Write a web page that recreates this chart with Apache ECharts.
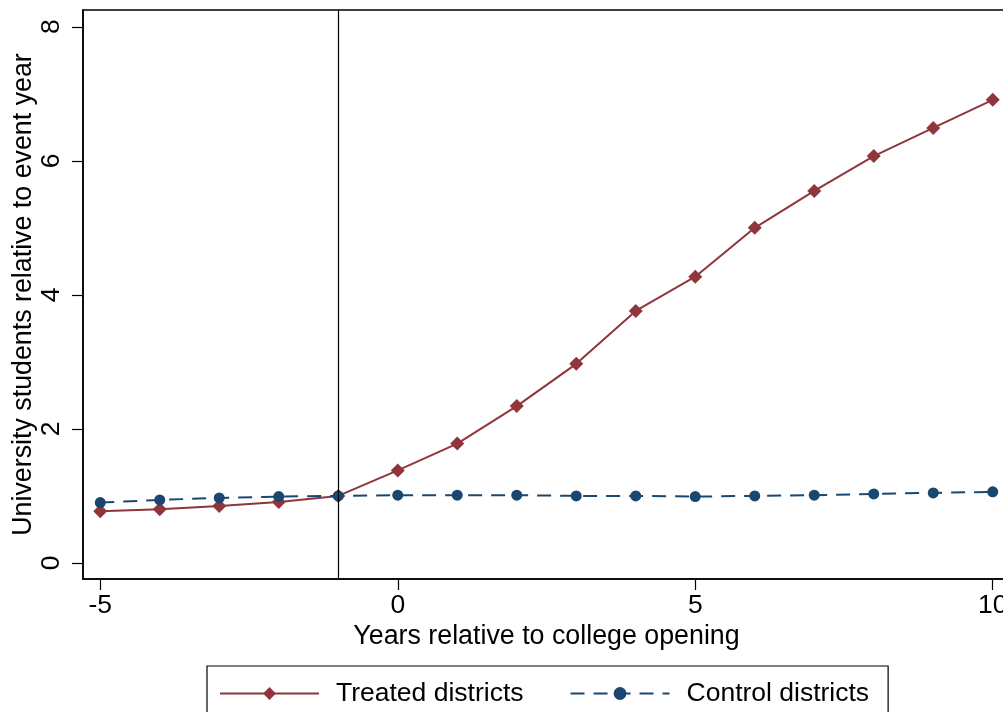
<!DOCTYPE html>
<html>
<head>
<meta charset="utf-8">
<script src="https://cdn.jsdelivr.net/npm/echarts@6/dist/echarts.min.js"></script>
<style>
  html, body { margin: 0; padding: 0; background: #fff; }
  #chart { width: 1003px; height: 712px; }
</style>
</head>
<body>
<div id="chart"></div>
<script>
// Event-study: university students relative to the event year
const years = [-5, -4, -3, -2, -1, 0, 1, 2, 3, 4, 5, 6, 7, 8, 9, 10];
const treated = [0.77, 0.80, 0.85, 0.91, 1.00, 1.38, 1.78, 2.34, 2.97, 3.76, 4.27, 5.00, 5.55, 6.07, 6.49, 6.91];
const control = [0.90, 0.94, 0.97, 0.99, 1.00, 1.01, 1.01, 1.01, 1.00, 1.00, 0.99, 1.00, 1.01, 1.03, 1.045, 1.06];
const xTicks = [-5, 0, 5, 10];
const yTicks = [0, 2, 4, 6, 8];
const eventLine = -1;

const FONT = '"Liberation Sans", Arial, Helvetica, sans-serif';
const RED = '#90353B';
const NAVY = '#1A476F';

const chart = echarts.init(document.getElementById('chart'), null, { renderer: 'canvas' });

chart.setOption({
  animation: false,
  backgroundColor: '#ffffff',
  textStyle: { fontFamily: FONT, color: '#000' },
  grid: {
    left: 83, top: 10, width: 927, height: 569,
    containLabel: false, outerBoundsMode: 'none',
    show: true, borderColor: '#000', borderWidth: 1.5, backgroundColor: 'transparent'
  },
  xAxis: {
    type: 'value', min: -5.29, max: 10.29,
    name: 'Years relative to college opening',
    nameLocation: 'middle', nameGap: 44, nameMoveOverlap: false,
    nameTextStyle: { fontSize: 26.8, fontFamily: FONT, color: '#000' },
    axisLine: { onZero: false, lineStyle: { color: '#000', width: 1.5 } },
    axisTick: { show: true, length: 11, customValues: xTicks, lineStyle: { color: '#000', width: 1.2 } },
    axisLabel: { customValues: xTicks, margin: 13, fontSize: 26.5, fontFamily: FONT, color: '#000' },
    splitLine: { show: false }
  },
  yAxis: {
    type: 'value', min: -0.24, max: 8.25,
    name: 'University students relative to event year',
    nameLocation: 'middle', nameGap: 46, nameMoveOverlap: false,
    nameTextStyle: { fontSize: 26.8, fontFamily: FONT, color: '#000' },
    axisLine: { show: true, onZero: false, lineStyle: { color: '#000', width: 1.5 } },
    axisTick: { show: true, length: 11, customValues: yTicks, lineStyle: { color: '#000', width: 1.2 } },
    axisLabel: { customValues: yTicks, rotate: 90, margin: 18, fontSize: 26.5, fontFamily: FONT, color: '#000' },
    splitLine: { show: false }
  },
  legend: {
    left: 207, top: 666,
    padding: [14, 19, 30, 12],
    borderColor: '#000', borderWidth: 1.2,
    itemWidth: 99, itemHeight: 16, itemGap: 46,
    textStyle: { fontSize: 26.5, fontFamily: FONT, color: '#000', lineHeight: 26, padding: [0, 0, 0, 12] },
    data: ['Treated districts', 'Control districts']
  },
  series: [
    {
      name: 'Treated districts', type: 'line',
      data: years.map((x, i) => [x, treated[i]]),
      symbol: 'diamond', symbolSize: 14,
      itemStyle: { color: RED },
      lineStyle: { color: RED, width: 2 },
      z: 3,
      markLine: {
        silent: true, symbol: ['none', 'none'], label: { show: false },
        lineStyle: { color: '#000', width: 1.2, type: 'solid' },
        data: [{ xAxis: eventLine }]
      }
    },
    {
      name: 'Control districts', type: 'line',
      data: years.map((x, i) => [x, control[i]]),
      symbol: 'circle', symbolSize: 11,
      itemStyle: { color: NAVY },
      lineStyle: { color: NAVY, width: 2, type: [14, 9] },
      z: 4
    }
  ]
});
</script>
</body>
</html>
